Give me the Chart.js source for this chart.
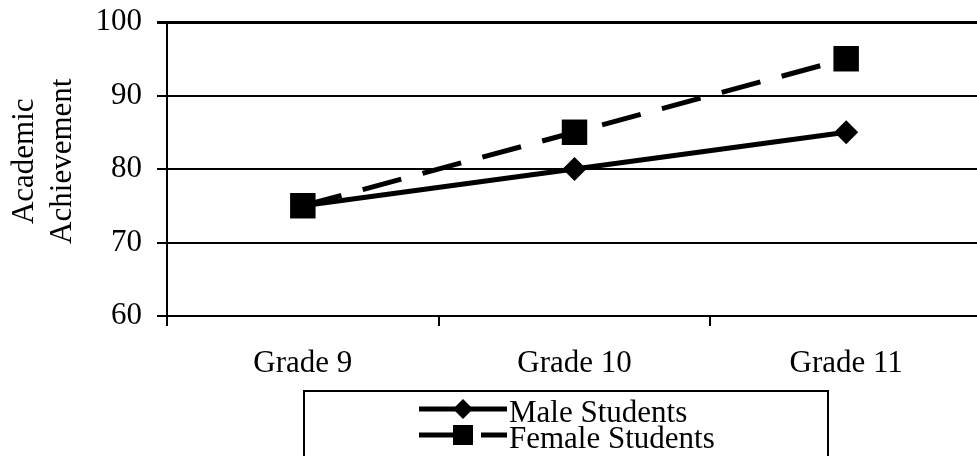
<!DOCTYPE html>
<html>
<head>
<meta charset="utf-8">
<script src="https://cdn.jsdelivr.net/npm/chart.js@4/dist/chart.umd.min.js"></script>
<style>
  body { margin: 0; background: #fff; overflow: hidden; }
  #wrap { width: 1000px; height: 456px; }
</style>
</head>
<body>
<div id="wrap"><canvas id="line-chart" width="1000" height="456"></canvas></div>
<script>
// data
var grades = ["Grade 9", "Grade 10", "Grade 11"];
var maleScores = [75, 80, 85];
var femaleScores = [75, 85, 95];
var yTicks = [60, 70, 80, 90, 100];

var serif = "'Liberation Serif', 'Times New Roman', serif";

// legend in a box under the chart, drawn by hand
var boxLegend = {
    id: 'boxLegend',
    afterDraw: function(chart) {
        var ctx = chart.ctx;
        ctx.save();
        ctx.strokeStyle = '#000';
        ctx.lineWidth = 2;
        ctx.strokeRect(304, 391, 524, 120);

        var rows = [
            { y: 422, ds: chart.data.datasets[0] },
            { y: 448, ds: chart.data.datasets[1] }
        ];
        rows.forEach(function(r) {
            var ly = r.y - 13;
            ctx.beginPath();
            ctx.setLineDash(r.ds.borderDash || []);
            ctx.lineWidth = 5;
            ctx.moveTo(419, ly);
            ctx.lineTo(507, ly);
            ctx.stroke();
            ctx.setLineDash([]);
            ctx.fillStyle = '#000';
            ctx.beginPath();
            if (r.ds.pointStyle == 'rectRot') {
                ctx.moveTo(463, ly - 10);
                ctx.lineTo(473, ly);
                ctx.lineTo(463, ly + 10);
                ctx.lineTo(453, ly);
                ctx.closePath();
            } else {
                ctx.rect(453, ly - 10, 20, 20);
            }
            ctx.fill();
            ctx.font = '31px ' + serif;
            ctx.textAlign = 'left';
            ctx.textBaseline = 'alphabetic';
            ctx.fillText(r.ds.label, 509, r.y);
        });
        ctx.restore();
    }
};

function noPad(scale) {
    scale.paddingTop = 0;
    scale.paddingBottom = 0;
    scale.paddingLeft = 0;
    scale.paddingRight = 0;
}

var ctx = document.getElementById('line-chart');
var chart = new Chart(ctx, {
    type: 'line',
    data: {
        labels: grades,
        datasets: [
            {
                label: 'Male Students',
                data: maleScores,
                borderColor: '#000',
                backgroundColor: '#000',
                borderWidth: 5,
                pointStyle: 'rectRot',
                pointRadius: 12,
                pointBorderWidth: 0,
                fill: false,
                lineTension: 0
            },
            {
                label: 'Female Students',
                data: femaleScores,
                borderColor: '#000',
                backgroundColor: '#000',
                borderWidth: 5,
                borderDash: [40, 22],
                pointStyle: 'rect',
                pointRadius: 18,
                pointBorderWidth: 0,
                fill: false,
                lineTension: 0
            }
        ]
    },
    options: {
        responsive: false,
        animation: false,
        devicePixelRatio: 1,
        layout: { padding: { top: 22, right: 14, left: 0, bottom: 0 } },
        plugins: {
            legend: { display: false },
            tooltip: { enabled: false }
        },
        scales: {
            x: {
                offset: true,
                grid: {
                    offset: true,
                    drawOnChartArea: false,
                    color: '#000',
                    lineWidth: 2,
                    tickLength: 10
                },
                border: { color: '#000', width: 2 },
                ticks: {
                    color: '#000',
                    padding: 19,
                    maxRotation: 0,
                    font: { family: serif, size: 31 }
                },
                afterFit: function(scale) { scale.height = 140; noPad(scale); }
            },
            y: {
                min: 60,
                max: 100,
                afterBuildTicks: function(scale) {
                    scale.ticks = yTicks.map(function(v) { return { value: v }; });
                },
                grid: {
                    color: '#000',
                    lineWidth: function(c) { return c.tick && c.tick.value == 100 ? 3 : 2; },
                    tickLength: 10
                },
                border: { color: '#000', width: 2 },
                ticks: {
                    color: '#000',
                    padding: 15,
                    font: { family: serif, size: 31 }
                },
                title: {
                    display: true,
                    // leading spaces nudge the rotated title up a little
                    text: ['  Academic', '  Achievement'],
                    color: '#000',
                    font: { family: serif, size: 31, lineHeight: 1.25 },
                    padding: { top: 5, bottom: 0 }
                },
                afterFit: function(scale) { scale.width = 167; noPad(scale); }
            }
        }
    },
    plugins: [boxLegend]
});
</script>
</body>
</html>
